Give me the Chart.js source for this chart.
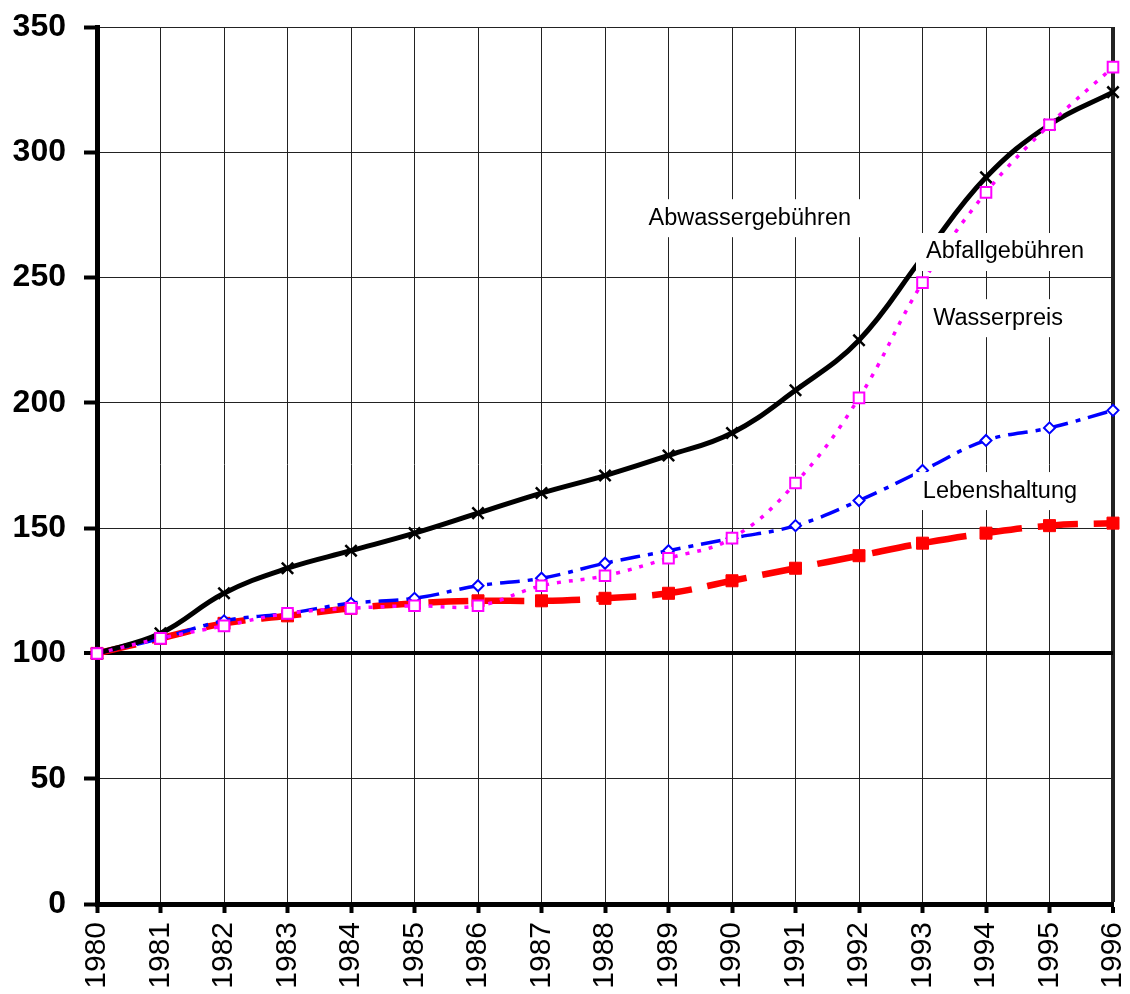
<!DOCTYPE html>
<html>
<head>
<meta charset="utf-8">
<script src="https://cdn.jsdelivr.net/npm/chart.js@4"></script>
<style>
  body { margin: 0; background: #fff; }
</style>
</head>
<body>
<canvas id="indexChart" width="1130" height="994"></canvas>
<script>
const years = ['1980','1981','1982','1983','1984','1985','1986','1987','1988','1989','1990','1991','1992','1993','1994','1995','1996'];
const abwasser = [100, 108, 124, 134, 141, 148, 156, 164, 171, 179, 188, 205, 225, 258, 290, 311, 324];
const abfall = [100, 106, 111, 116, 118, 119, 119, 127, 131, 138, 146, 168, 202, 248, 284, 311, 334];
const wasser = [100, 106, 113, 116, 120, 122, 127, 130, 136, 141, 146, 151, 161, 173, 185, 190, 197];
const leben = [100, 106, 112, 115, 118, 120, 121, 121, 122, 124, 129, 134, 139, 144, 148, 151, 152];

// annotation texts, placed in data units (x = year index, y = value)
const noteTexts = ['Abwassergebühren', 'Abfallgebühren', 'Wasserpreis', 'Lebenshaltung'];
const noteX = [10.28, 14.3, 14.19, 14.22];
const noteY = [273.7, 260.2, 233.8, 164.8];

const FONT = 'Liberation Sans, Arial, sans-serif';

const notesPlugin = {
  id: 'notes',
  afterDatasetsDraw(chart) {
    const c = chart.ctx;
    const xs = chart.scales.x, ys = chart.scales.y;
    c.save();
    c.font = '23.5px ' + FONT;
    c.textAlign = 'center';
    c.textBaseline = 'middle';
    noteTexts.forEach((t, i) => {
      const px = xs.getPixelForValue(noteX[i]);
      const py = ys.getPixelForValue(noteY[i]);
      const w = c.measureText(t).width;
      c.fillStyle = '#fff';
      c.fillRect(px - w / 2 - 10, py - 19, w + 20, 38);
      c.fillStyle = '#000';
      c.fillText(t, px, py);
    });
    c.restore();
  }
};

const ctx = document.getElementById('indexChart').getContext('2d');

const indexChart = new Chart(ctx, {
  type: 'line',
  data: {
    labels: years,
    datasets: [
      {
        label: 'Abfallgebühren',
        data: abfall,
        borderColor: '#ff00ff',
        borderWidth: 3.5,
        borderDash: [4, 8],
        pointStyle: 'rect',
        pointRadius: 7.5,
        pointBorderWidth: 2,
        pointBackgroundColor: '#fff',
        pointBorderColor: '#ff00ff',
        tension: 0.4,
        clip: false
      },
      {
        label: 'Abwassergebühren',
        data: abwasser,
        borderColor: '#000',
        borderWidth: 5,
        pointStyle: 'crossRot',
        pointRadius: 8,
        pointBorderWidth: 2.5,
        pointBorderColor: '#000',
        tension: 0.4,
        clip: false
      },
      {
        label: 'Wasserpreis',
        data: wasser,
        borderColor: '#0000ff',
        borderWidth: 3.5,
        borderDash: [20, 8, 5, 8],
        pointStyle: 'rectRot',
        pointRadius: 5.5,
        pointBorderWidth: 2,
        pointBackgroundColor: '#fff',
        pointBorderColor: '#0000ff',
        tension: 0.4,
        clip: false
      },
      {
        label: 'Lebenshaltung',
        data: leben,
        borderColor: '#ff0000',
        borderWidth: 6.5,
        borderDash: [40, 16],
        pointStyle: 'rect',
        pointRadius: 8.5,
        pointBorderWidth: 1,
        pointBackgroundColor: '#ff0000',
        pointBorderColor: '#ff0000',
        tension: 0.4,
        clip: false
      }
    ]
  },
  options: {
    responsive: false,
    animation: false,
    layout: { padding: { top: 27, right: 17, left: 0, bottom: 0 } },
    plugins: {
      legend: { display: false },
      tooltip: { enabled: false }
    },
    scales: {
      x: {
        offset: false,
        afterFit: s => { s.height = 90; s.paddingLeft = 0; s.paddingRight = 0; },
        border: { display: true, color: '#000', width: 5 },
        grid: {
          color: '#222',
          lineWidth: c => (c.index === years.length - 1 ? 4 : 1),
          tickLength: 9,
          tickWidth: 4,
          tickColor: '#000'
        },
        ticks: {
          color: '#000',
          font: { family: FONT, size: 30 },
          minRotation: 90,
          maxRotation: 90,
          padding: 9,
          autoSkip: false
        }
      },
      y: {
        min: 0,
        max: 350,
        afterFit: s => { s.width = 97; s.paddingTop = 0; s.paddingBottom = 0; },
        border: { display: true, color: '#000', width: 5 },
        grid: {
          color: c => (c.tick && c.tick.value === 100 ? '#000' : '#222'),
          lineWidth: c => (c.tick && c.tick.value === 100 ? 4 : 1),
          tickLength: 13,
          tickWidth: 4,
          tickColor: '#000'
        },
        ticks: {
          stepSize: 50,
          color: '#000',
          font: { family: FONT, size: 32, weight: 'bold' },
          padding: 18
        }
      }
    }
  },
  plugins: [notesPlugin]
});
</script>
</body>
</html>
